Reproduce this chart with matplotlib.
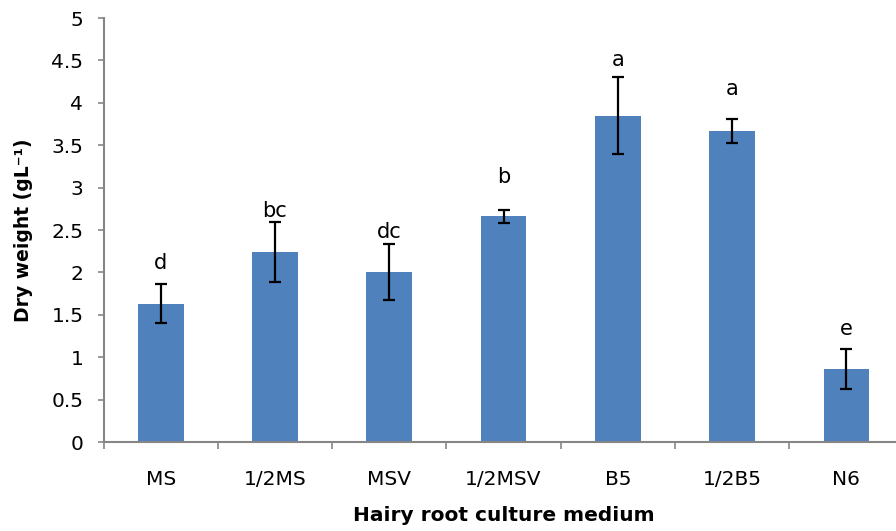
import numpy as np
import matplotlib
matplotlib.use("Agg")
from matplotlib import pyplot as plt, ticker

# data
media = ["MS", "1/2MS", "MSV", "1/2MSV", "B5", "1/2B5", "N6"]
dry_weight = [1.63, 2.24, 2.01, 2.66, 3.85, 3.67, 0.86]
std_err = [0.23, 0.35, 0.33, 0.08, 0.45, 0.14, 0.24]
letters = ["d", "bc", "dc", "b", "a", "a", "e"]

# gap (points) between error bar top and letter, as placed in the original
letter_gap = [11, 4, 4, 19, 8, 17, 10]

plt.rcParams['font.family'] = ['DejaVu Sans']

fig = plt.figure(figsize=(8.96, 5.31), dpi=100)
ax = fig.add_axes([103.5 / 896, 89 / 531, 800 / 896, 424 / 531])

x = np.arange(len(media))
ax.bar(x, dry_weight, width=0.40, color="#4F81BD", zorder=2)
ax.errorbar(x, dry_weight, yerr=std_err, fmt="none", ecolor="black",
            elinewidth=1.6, capsize=4.5, capthick=1.6, zorder=3)

for xi, v, e, lab, gap in zip(x, dry_weight, std_err, letters, letter_gap):
    ax.annotate(lab, (xi, v + e), xytext=(0, gap), textcoords="offset points",
                ha="center", va="baseline", fontsize=15, color="black")

ax.set_xlim(-0.5, len(media) - 0.5)
ax.set_ylim(0, 5)
ax.yaxis.set_major_locator(ticker.MultipleLocator(0.5))
ax.yaxis.set_major_formatter(ticker.FormatStrFormatter("%g"))

# ticks at category boundaries, labels at centres
ax.set_xticks(np.arange(-0.5, len(media), 1.0))
ax.set_xticklabels([])
ax.set_xticks(x, minor=True)
ax.set_xticklabels(media, minor=True)
ax.tick_params(axis="x", which="major", length=5, width=1.2, color="#868686")
ax.tick_params(axis="x", which="minor", length=0, pad=20, labelsize=14.5)
ax.tick_params(axis="y", length=4.5, width=1.2, color="#868686", pad=10,
               labelsize=14.5)

for side in ("top", "right"):
    ax.spines[side].set_visible(False)
for side in ("left", "bottom"):
    ax.spines[side].set_color("#868686")
    ax.spines[side].set_linewidth(1.5)

ax.set_xlabel("Hairy root culture medium", fontsize=14.5, fontweight="bold")
ax.xaxis.set_label_coords(0.5, -0.15)
ax.set_ylabel("Dry weight (gL\u207b\u00b9)", fontsize=13.5, fontweight="bold")
ax.yaxis.set_label_coords(-0.088, 0.5)

fig.savefig("out.png", dpi=100)
